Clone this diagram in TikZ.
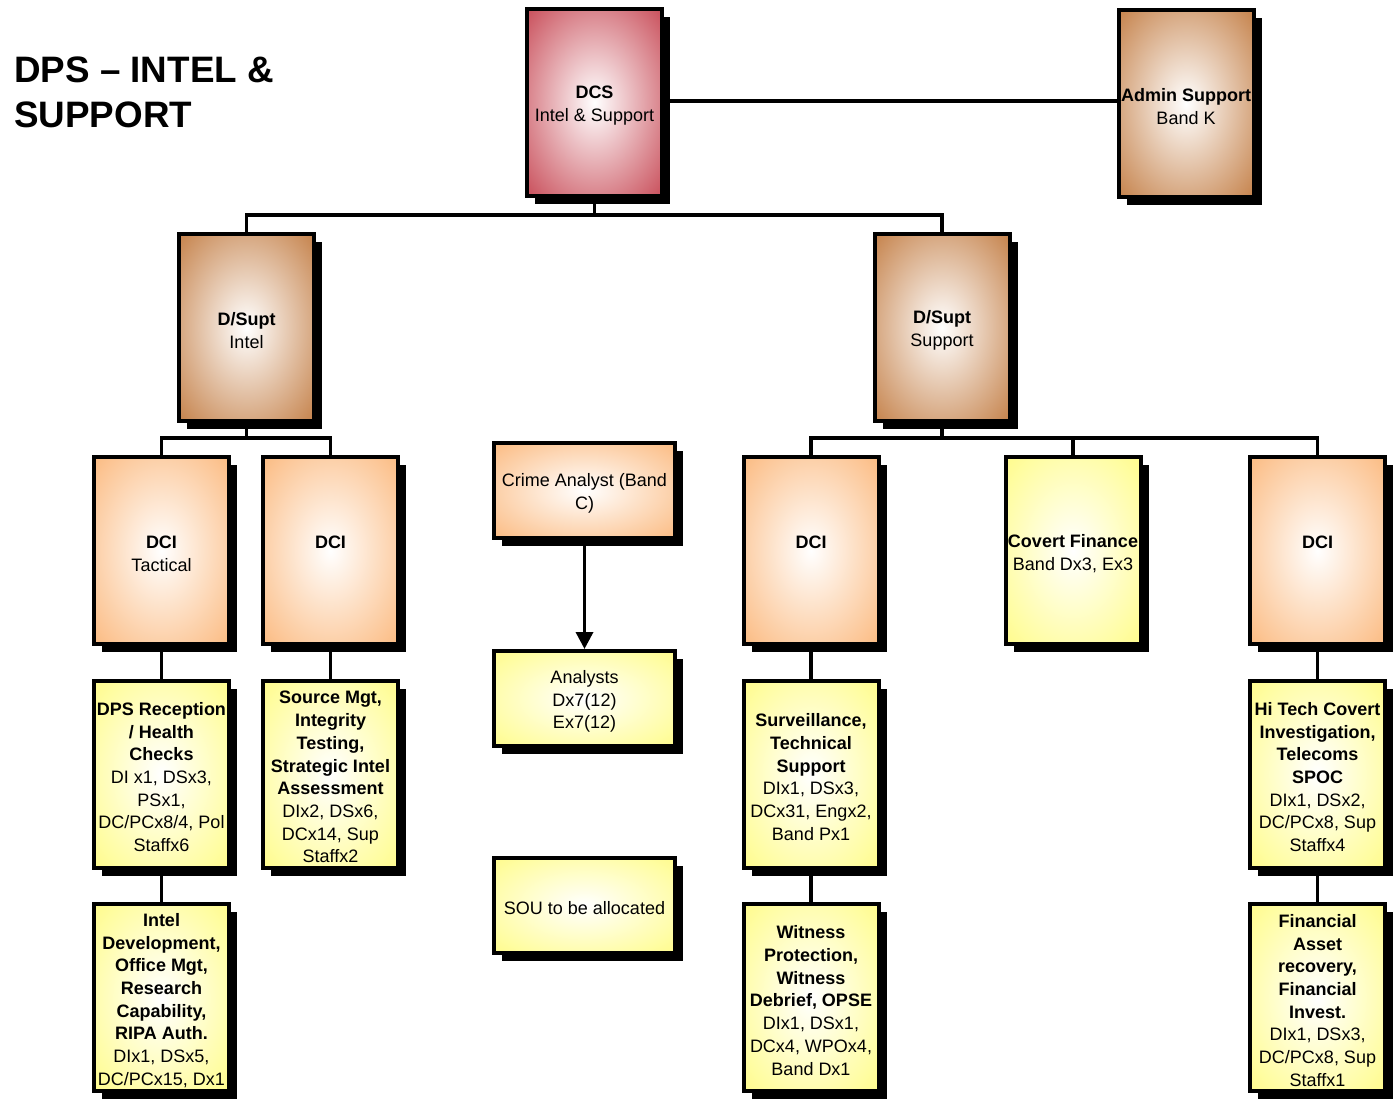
\documentclass[tikz,border=0pt]{standalone}
\usepackage{fontspec}
\setmainfont{Liberation Sans}
\usetikzlibrary{shadows,arrows.meta}
\definecolor{cRed}{RGB}{200,76,88}
\definecolor{cBrown}{RGB}{196,128,72}
\definecolor{cOrange}{RGB}{251,186,128}
\definecolor{cYellow}{RGB}{255,252,138}
\pgfdeclareradialshading{shRed}{\pgfpointorigin}{color(0bp)=(white); color(36bp)=(cRed); color(50bp)=(cRed)}
\pgfdeclareradialshading{shBrown}{\pgfpointorigin}{color(0bp)=(white); color(36bp)=(cBrown); color(50bp)=(cBrown)}
\pgfdeclareradialshading{shOrange}{\pgfpointorigin}{color(0bp)=(white); color(36bp)=(cOrange); color(50bp)=(cOrange)}
\pgfdeclareradialshading{shYellow}{\pgfpointorigin}{color(0bp)=(white); color(36bp)=(cYellow); color(50bp)=(cYellow)}
\newcommand{\fl}{\rule{0pt}{19pt}}
\begin{document}
\begin{tikzpicture}[x=1pt,y=-1pt,
  orgbox/.style={draw=black, line width=4pt, inner sep=0pt, align=center,
    font=\fontsize{18}{22.7}\selectfont,
    general shadow={fill=black, shadow xshift=8pt, shadow yshift=-8pt}},
  tallbox/.style={orgbox, minimum width=135pt, minimum height=187pt},
  widebox/.style={orgbox, minimum width=181pt, minimum height=95pt},
  fillRed/.style={shading=shRed},
  fillBrown/.style={shading=shBrown},
  fillOrange/.style={shading=shOrange},
  fillYellow/.style={shading=shYellow},
  conn/.style={draw=black, line width=3.5pt},
  titletext/.style={font=\fontsize{36.8}{45}\selectfont\bfseries, inner sep=0pt}
]
\fill[white] (0,0) rectangle (1399,1105);
\useasboundingbox (0,0) rectangle (1399,1105);

% title
\node[titletext, anchor=base west] (t1) at (14,83) {DPS – INTEL \&};
\node[titletext, anchor=base west] (t2) at (14,128) {SUPPORT};

% boxes
\node[tallbox, fillRed] (DCS) at (594.5,102.5) {\fl\textbf{DCS}\\Intel \& Support};
\node[tallbox, fillBrown] (ADM) at (1186,103.5) {\fl\textbf{Admin Support}\\Band K};
\node[tallbox, fillBrown] (DSI) at (246.5,327.5) {\fl\textbf{D/Supt}\\Intel};
\node[tallbox, fillBrown] (DSS) at (942,327.5) {\fl\textbf{D/Supt}\\Support};

\node[tallbox, fillOrange] (DCI1) at (161.5,550.5) {\fl\textbf{DCI}\\Tactical};
\node[tallbox, fillOrange] (DCI2) at (330.5,550.5) {\fl\textbf{DCI}\\\mbox{}};
\node[tallbox, fillOrange] (DCI3) at (811,550.5) {\fl\textbf{DCI}\\\mbox{}};
\node[tallbox, fillYellow] (CF) at (1073,550.5) {\fl\textbf{Covert Finance}\\Band Dx3, Ex3};
\node[tallbox, fillOrange] (DCI4) at (1317.5,550.5) {\fl\textbf{DCI}\\\mbox{}};

\node[widebox, fillOrange] (CA) at (584.5,490.5) {\fl Crime Analyst (Band\\C)};
\node[widebox, fillYellow] (AN) at (584.5,698.5) {\fl Analysts\\Dx7(12)\\Ex7(12)};
\node[widebox, fillYellow] (SOU) at (584.5,905) {\fl SOU to be allocated};

\node[tallbox, fillYellow] (R1) at (161.5,774) {\fl\textbf{DPS Reception}\\\textbf{/ Health}\\\textbf{Checks}\\DI x1, DSx3,\\PSx1,\\DC/PCx8/4, Pol\\Staffx6};
\node[tallbox, fillYellow] (R2) at (330.5,774) {\fl\textbf{Source Mgt,}\\\textbf{Integrity}\\\textbf{Testing,}\\\textbf{Strategic Intel}\\\textbf{Assessment}\\DIx2, DSx6,\\DCx14, Sup\\Staffx2};
\node[tallbox, fillYellow] (R3) at (161.5,997.5) {\fl\textbf{Intel}\\\textbf{Development,}\\\textbf{Office Mgt,}\\\textbf{Research}\\\textbf{Capability,}\\\textbf{RIPA Auth.}\\DIx1, DSx5,\\DC/PCx15, Dx1};
\node[tallbox, fillYellow] (S1) at (811,774) {\fl\textbf{Surveillance,}\\\textbf{Technical}\\\textbf{Support}\\DIx1, DSx3,\\DCx31, Engx2,\\Band Px1};
\node[tallbox, fillYellow] (S2) at (811,997.5) {\fl\textbf{Witness}\\\textbf{Protection,}\\\textbf{Witness}\\\textbf{Debrief, OPSE}\\DIx1, DSx1,\\DCx4, WPOx4,\\Band Dx1};
\node[tallbox, fillYellow] (H1) at (1317.5,774) {\fl\textbf{Hi Tech Covert}\\\textbf{Investigation,}\\\textbf{Telecoms}\\\textbf{SPOC}\\DIx1, DSx2,\\DC/PCx8, Sup\\Staffx4};
\node[tallbox, fillYellow] (H2) at (1317.5,997.5) {\fl\textbf{Financial}\\\textbf{Asset}\\\textbf{recovery,}\\\textbf{Financial}\\\textbf{Invest.}\\DIx1, DSx3,\\DC/PCx8, Sup\\Staffx1};

% connectors
\coordinate (busTop) at (594.5,215);
\coordinate (busI) at (246.5,438);
\coordinate (busS) at (942,438);
\draw[conn] (DCS.east |- 0,101) -- (ADM.west |- 0,101);
\draw[conn] (DCS.south) -- (busTop);
\draw[conn] (DSI.north) |- (busTop) -| (DSS.north);
\draw[conn] (DSI.south) -- (busI);
\draw[conn] (DCI1.north) |- (busI) -| (DCI2.north);
\draw[conn] (DSS.south) -- (busS);
\draw[conn] (DCI3.north) |- (busS) -| (DCI4.north);
\draw[conn] (CF.north) -- (CF.north |- busS);
\draw[conn] (DCI1.south) -- (R1.north);
\draw[conn] (R1.south) -- (R3.north);
\draw[conn] (DCI2.south) -- (R2.north);
\draw[conn] (DCI3.south) -- (S1.north);
\draw[conn] (S1.south) -- (S2.north);
\draw[conn] (DCI4.south) -- (H1.north);
\draw[conn] (H1.south) -- (H2.north);
\draw[conn, -{Triangle[length=17pt,width=17pt]}] (CA.south) -- (AN.north);
\end{tikzpicture}
\end{document}
